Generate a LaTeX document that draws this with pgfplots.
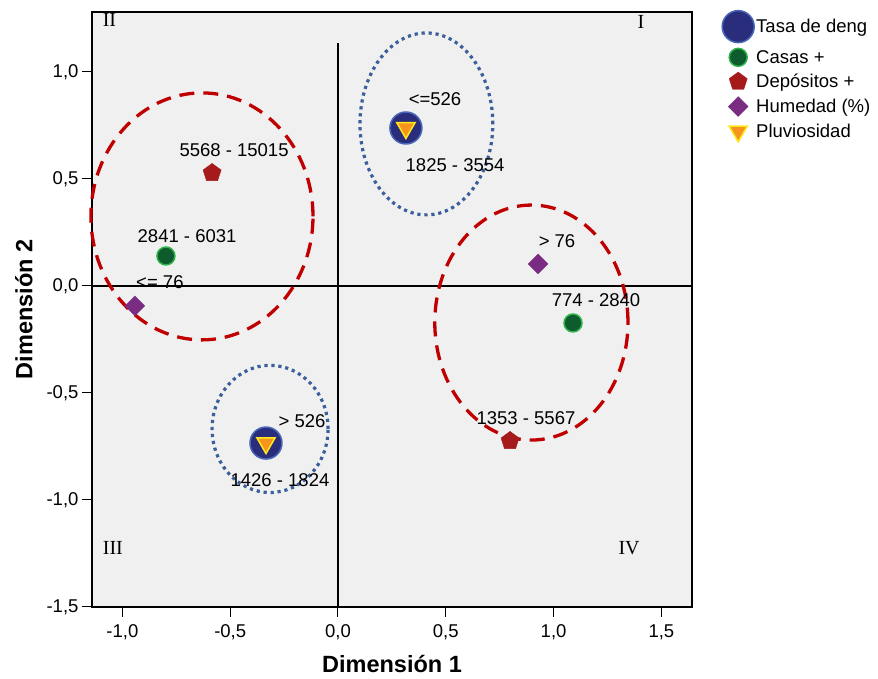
\documentclass[border=0pt]{standalone}
\usepackage{fontspec}
\setmainfont{Liberation Sans}
\newfontfamily\seriffont{Liberation Serif}
\usepackage{pgfplots}
\pgfplotsset{compat=1.18}
\usetikzlibrary{plotmarks}
\definecolor{bg}{HTML}{F0F0F0}
\definecolor{tasa}{HTML}{2A2D7C}
\definecolor{tasaedge}{HTML}{4A68B8}
\definecolor{casas}{HTML}{0E5B2E}
\definecolor{casasedge}{HTML}{2DB34A}
\definecolor{depo}{HTML}{A51B1B}
\definecolor{hume}{HTML}{7A2C83}
\definecolor{pluv}{HTML}{F7941D}
\definecolor{pluvedge}{HTML}{FFE81A}
\definecolor{ellred}{HTML}{C00000}
\definecolor{ellblue}{HTML}{3A5F9A}
\begin{document}
\begin{tikzpicture}[x=1pt,y=1pt]
\begin{axis}[
  at={(92pt,72pt)}, anchor=south west,
  width=600pt, height=595pt, scale only axis,
  xmin=-1.141, xmax=1.642, ymin=-1.5, ymax=1.28,
  axis background/.style={fill=bg},
  xtick={-1,-0.5,0,0.5,1,1.5}, ytick={-1.5,-1,-0.5,0,0.5,1},
  xtick pos=bottom, ytick pos=left, tick align=outside,
  major tick length=10pt,
  tick style={black, line width=1pt},
  axis line style={line width=1.3pt},
  /pgf/number format/.cd, fixed, fixed zerofill, precision=1, use comma, assume math mode=true,
  /pgfplots/.cd,
  ticklabel style={font=\fontsize{18.5}{20}\selectfont},
  xticklabel style={yshift=-4pt},
  xlabel={Dimensión 1}, ylabel={Dimensión 2},
  label style={font=\fontsize{23.5}{26}\selectfont\bfseries},
  xlabel style={yshift=-9pt},
  ylabel style={yshift=7pt},
  legend style={at={(1.045,1.006)}, anchor=north west, draw=none, fill=none,
    font=\fontsize{18.5}{20}\selectfont, row sep=5.5pt},
  legend cell align=left,
  clip=false,
]
% zero lines
\draw[black, line width=1.2pt] (axis cs:-1.141,0) -- (axis cs:1.642,0);
\draw[black, line width=1.2pt] (axis cs:0,-1.5) -- (axis cs:0,1.135);
% ellipses
\draw[ellred, line width=3.3pt, dash pattern=on 15pt off 9pt] (axis cs:-0.631,0.325) ellipse [x radius=0.515, y radius=0.577];
\draw[ellred, line width=3.3pt, dash pattern=on 15pt off 9pt] (axis cs:0.897,-0.171) ellipse [x radius=0.448, y radius=0.549];
\draw[ellblue, line width=3.2pt, dash pattern=on 3.2pt off 3.8pt] (axis cs:0.41,0.757) ellipse [x radius=0.308, y radius=0.425];
\draw[ellblue, line width=3.2pt, dash pattern=on 3.2pt off 3.8pt] (axis cs:-0.315,-0.668) ellipse [x radius=0.269, y radius=0.297];

\addplot[only marks, mark=*, mark size=16pt, mark options={fill=tasa, draw=tasaedge, line width=1.5pt}]
  coordinates {(0.315,0.738) (-0.334,-0.734)};
\addlegendentry{Tasa de deng}
\addplot[only marks, mark=*, mark size=9pt, mark options={fill=casas, draw=casasedge, line width=1.5pt}]
  coordinates {(-0.798,0.140) (1.090,-0.173)};
\addlegendentry{Casas +}
\addplot[only marks, mark=pentagon*, mark size=9.5pt, mark options={fill=depo, draw=depo}]
  coordinates {(-0.584,0.528) (0.798,-0.724)};
\addlegendentry{Depósitos +}
\addplot[only marks, mark=square*, mark size=7pt, mark options={fill=hume, draw=hume, rotate=45}]
  coordinates {(-0.942,-0.093) (0.928,0.103)};
\addlegendentry{Humedad (\%)}
\addplot[only marks, mark=triangle*, mark size=10.5pt, mark options={fill=pluv, draw=pluvedge, line width=1.5pt, rotate=180}]
  coordinates {(0.315,0.738) (-0.334,-0.734)};
\addlegendentry{Pluviosidad}

% point labels
\begin{scope}[every node/.style={font=\fontsize{18.5}{20}\selectfont, inner sep=0pt}]
\node at (axis cs:0.45,0.874) {<=526};
\node at (axis cs:0.543,0.565) {1825 - 3554};
\node at (axis cs:-0.482,0.636) {5568 - 15015};
\node at (axis cs:-0.70,0.234) {2841 - 6031};
\node at (axis cs:-0.826,0.019) {<= 76};
\node at (axis cs:1.016,0.21) {> 76};
\node at (axis cs:1.197,-0.065) {774 - 2840};
\node at (axis cs:0.872,-0.617) {1353 - 5567};
\node at (axis cs:-0.167,-0.631) {> 526};
\node at (axis cs:-0.269,-0.907) {1426 - 1824};
\end{scope}
% quadrant labels
\begin{scope}[every node/.style={font=\seriffont\fontsize{20}{22}\selectfont, inner sep=0pt}]
\node at (axis cs:-1.06,1.243) {II};
\node at (axis cs:1.405,1.234) {I};
\node at (axis cs:-1.044,-1.224) {III};
\node at (axis cs:1.35,-1.224) {IV};
\end{scope}
\end{axis}
\pgfresetboundingbox
\path (0,0) rectangle (878,679);
\end{tikzpicture}
\end{document}
